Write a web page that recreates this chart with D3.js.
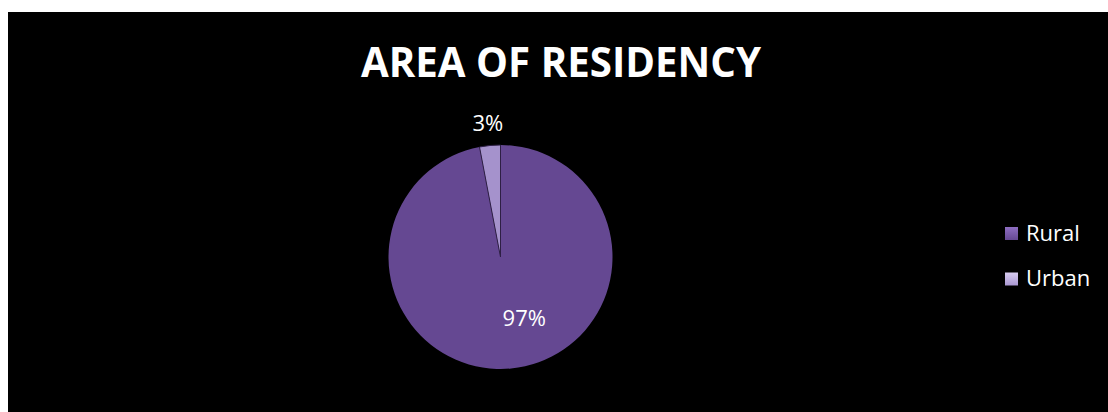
<!DOCTYPE html>
<html><head><meta charset="utf-8">
<script src="https://cdn.jsdelivr.net/npm/d3@7"></script>
<style>html,body{margin:0;padding:0;background:#fff;}svg{display:block;}</style>
</head><body>
<svg id="c" width="1108" height="412"></svg>
<script>
const categories = ["Rural", "Urban"];
const values = [97, 3];
const labels = ["97%", "3%"];
const title = "AREA OF RESIDENCY";

const svg = d3.select("#c");
const W = 1108, H = 412;
svg.append("rect").attr("x", 8).attr("y", 12).attr("width", W - 8).attr("height", H - 12).attr("fill", "#000");

const cx = 500.5, cy = 257, r = 112;
const defs = svg.append("defs");
function radial(id, stops) {
  const g = defs.append("radialGradient").attr("id", id).attr("gradientUnits", "userSpaceOnUse")
    .attr("cx", cx).attr("cy", cy).attr("r", r);
  stops.forEach(s => g.append("stop").attr("offset", s[0]).attr("stop-color", s[1]));
}
radial("gR", [[0, "#7c5bb0"], [0.8, "#8160b5"], [0.94, "#7857aa"], [1, "#654892"]]);
radial("gU", [[0, "#b4a2da"], [0.85, "#c2b2e4"], [1, "#a592cc"]]);
const lin = (id, a, b) => {
  const g = defs.append("linearGradient").attr("id", id).attr("x1", 0).attr("y1", 0).attr("x2", 0).attr("y2", 1);
  g.append("stop").attr("offset", 0).attr("stop-color", a);
  g.append("stop").attr("offset", 1).attr("stop-color", b);
};
lin("lR", "#8e6ec2", "#654892");
lin("lU", "#d8ccf0", "#aa98d2");
const fills = ["url(#gR)", "url(#gU)"];
const legendFills = ["url(#lR)", "url(#lU)"];

// title
svg.append("text").attr("x", 561).attr("y", 77).attr("text-anchor", "middle")
  .attr("font-family", "Open Sans").attr("font-weight", "bold").attr("font-size", 41)
  .attr("fill", "#fff").attr("textLength", 400).attr("lengthAdjust", "spacingAndGlyphs")
  .text(title);

// pie
const pie = d3.pie().sort(null).value(d => d)(values);
const arc = d3.arc().innerRadius(0).outerRadius(r);
const g = svg.append("g").attr("transform", `translate(${cx},${cy})`);
g.selectAll("path").data(pie).join("path")
  .attr("d", arc)
  .attr("fill", (d, i) => fills[i])
  .attr("stroke", (d, i) => i === 1 ? "#2e1f45" : "none")
  .attr("stroke-width", 1);

// labels
const outArc = d3.arc().innerRadius(r * 1.2).outerRadius(r * 1.2);
const inArc = d3.arc().innerRadius(r * 0.55).outerRadius(r * 0.55);
g.selectAll("text.lab").data(pie).join("text").attr("class", "lab")
  .attr("x", (d, i) => i === 1 ? outArc.centroid(d)[0] : inArc.centroid(d)[0] + 18)
  .attr("y", (d, i) => (i === 1 ? outArc.centroid(d)[1] : inArc.centroid(d)[1]) + 8)
  .attr("text-anchor", "middle")
  .attr("font-family", "Open Sans").attr("font-size", 22).attr("fill", "#fff")
  .text((d, i) => labels[i]);

// legend
const ly = d3.scalePoint().domain(categories).range([233.5, 279]);
const lg = svg.append("g");
categories.forEach((c, i) => {
  lg.append("rect").attr("x", 1005).attr("y", ly(c) - 6.5).attr("width", 13).attr("height", 13)
    .attr("fill", legendFills[i]);
  lg.append("text").attr("x", 1026).attr("y", ly(c) + 7).attr("font-family", "Open Sans")
    .attr("font-size", 22).attr("fill", "#fff").text(c);
});
</script>
</body></html>
